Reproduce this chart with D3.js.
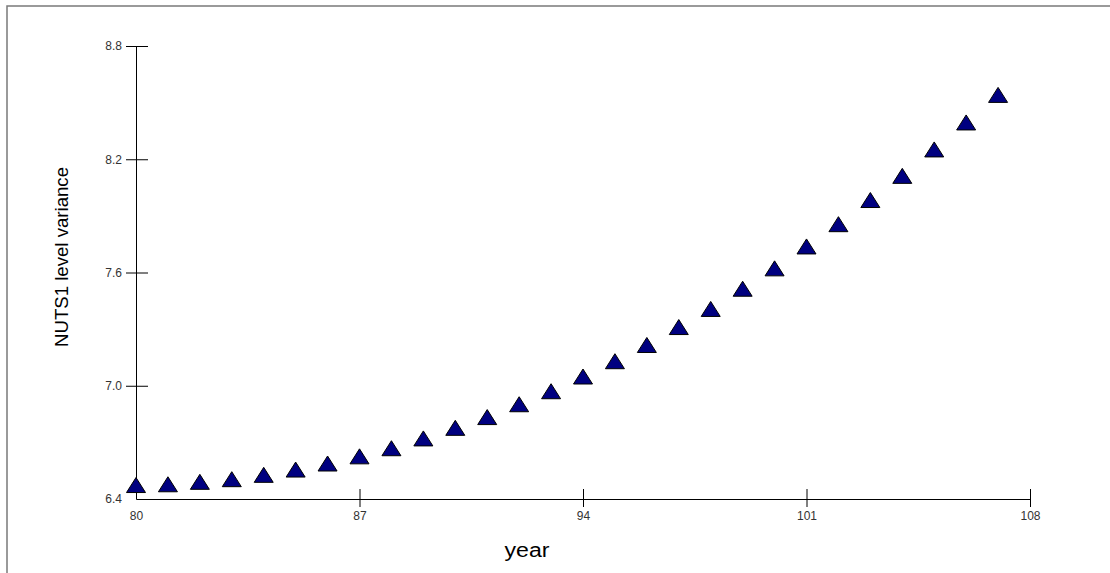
<!DOCTYPE html>
<html>
<head>
<meta charset="utf-8">
<script src="https://cdn.jsdelivr.net/npm/d3@7"></script>
<style>
  html, body { margin: 0; padding: 0; background: #fff; }
  svg { display: block; }
</style>
</head>
<body>
<svg id="chart" width="1110" height="573"></svg>
<script>
const years = [80,81,82,83,84,85,86,87,88,89,90,91,92,93,94,95,96,97,98,99,100,101,102,103,104,105,106,107];
const variance = [6.474,6.478,6.491,6.505,6.528,6.556,6.588,6.626,6.669,6.721,6.777,6.834,6.902,6.971,7.049,7.130,7.216,7.311,7.407,7.514,7.622,7.738,7.856,7.984,8.112,8.252,8.395,8.541];
const xTicks = [80,87,94,101,108];
const yTicks = [6.4,7.0,7.6,8.2,8.8];
const xLabel = "year";
const yLabel = "NUTS1 level variance";

const svg = d3.select("#chart");

// outer frame
svg.append("rect")
  .attr("x", 7).attr("y", 6)
  .attr("width", 1200).attr("height", 700)
  .attr("fill", "none").attr("stroke", "#7a7a7a").attr("stroke-width", 1.5);

const x = d3.scaleLinear().domain([80,108]).range([136,1030]);
const y = d3.scaleLinear().domain([6.4,8.8]).range([499,46]);

// X axis
const gx = svg.append("g").attr("transform", "translate(0,499)")
  .call(d3.axisBottom(x).tickValues(xTicks).tickFormat(d3.format("d")).tickSizeOuter(0));
gx.select(".domain").attr("stroke", "#000");
gx.selectAll(".tick line").attr("y1", -10).attr("y2", 8).attr("stroke", "#000")
  .attr("display", d => d === 80 ? "none" : null);
gx.selectAll(".tick text").attr("y", 12).attr("dy", "0.71em")
  .attr("font-family", "Arial, 'Liberation Sans', sans-serif").attr("font-size", 12).attr("fill", "#333");

// Y axis
const gy = svg.append("g").attr("transform", "translate(136,0)")
  .call(d3.axisLeft(y).tickValues(yTicks).tickFormat(d3.format(".1f")).tickSizeOuter(0));
gy.select(".domain").attr("stroke", "#000");
gy.selectAll(".tick line").attr("x1", 12).attr("x2", -10).attr("stroke", "#000")
  .attr("display", d => d === 6.4 ? "none" : null);
gy.selectAll(".tick text").attr("x", -14)
  .attr("font-family", "Arial, 'Liberation Sans', sans-serif").attr("font-size", 12).attr("fill", "#333");

// axis titles
svg.append("text")
  .attr("x", 527).attr("y", 557)
  .attr("text-anchor", "middle")
  .attr("font-family", "Arial, 'Liberation Sans', sans-serif")
  .attr("font-size", 20)
  .attr("textLength", 45).attr("lengthAdjust", "spacingAndGlyphs")
  .text(xLabel);

svg.append("text")
  .attr("transform", "translate(68,257) rotate(-90)")
  .attr("text-anchor", "middle")
  .attr("font-family", "Arial, 'Liberation Sans', sans-serif")
  .attr("font-size", 18.5)
  .attr("textLength", 180).attr("lengthAdjust", "spacingAndGlyphs")
  .text(yLabel);

// markers
const tri = "M-9.5,7.5L9.5,7.5L0,-7.5Z";
svg.append("g").selectAll("path")
  .data(years.map((yr, i) => ({yr, v: variance[i]})))
  .join("path")
  .attr("d", tri)
  .attr("transform", d => `translate(${x(d.yr)},${y(d.v)})`)
  .attr("fill", "#000080")
  .attr("stroke", "#000")
  .attr("stroke-width", 1);
</script>
</body>
</html>
